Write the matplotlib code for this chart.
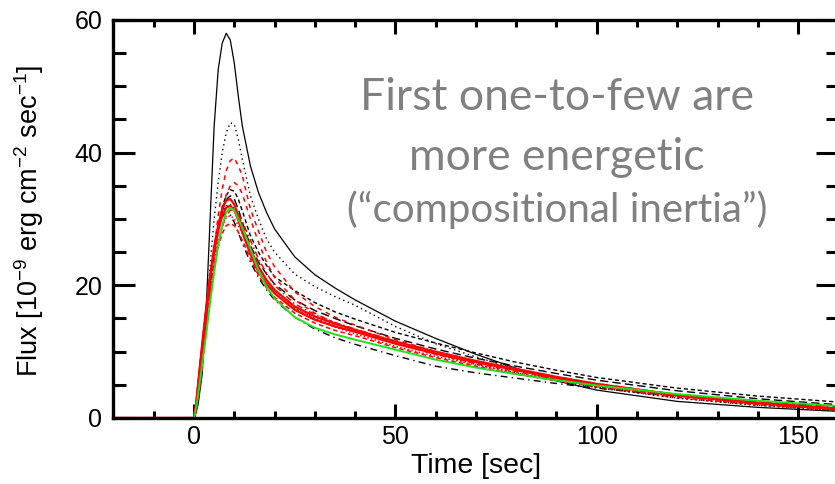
"""Light curves of successive bursts: flux vs time"""

import matplotlib.pyplot as plt
from matplotlib.ticker import MultipleLocator

# Time samples [sec] shared by every light curve
time = [-20, 0, 0.5, 1, 2, 3, 4, 5, 6, 7, 8, 9, 10, 11, 12, 14, 16, 18, 20,
        25, 30, 35, 40, 50, 60, 70, 80, 90, 100, 120, 140, 160]

# Flux values [1e-9 erg cm^-2 sec^-1]
black_solid = [0, 0, 0.8, 2, 6.5, 16, 30, 44, 52.5, 56.5, 58, 57, 53.5, 48.5, 44, 38, 34, 31, 28.5,
               24.3, 21.6, 19.6, 17.8, 14.6, 12, 9.6, 7.5, 5.6, 4.2, 2.5, 1.6, 1.0]
black_dotted = [0, 0, 1, 2.5, 7.5, 15, 23, 30, 35.5, 40, 43, 44.5, 44.3, 42, 39, 33.5, 30, 27, 25,
                21.7, 19.8, 18.3, 17, 13.8, 11.2, 9.2, 7.4, 5.9, 4.6, 3.0, 1.9, 1.2]
black_dashed = [0, 0, 1.5, 4, 10, 15.5, 21, 25.5, 29, 31.8, 33.6, 34.4, 34.2, 33, 31.2, 27.5, 25, 23, 21.3,
                19.2, 17.4, 16, 14.9, 12.9, 11.3, 9.8, 8.4, 7.2, 6.1, 4.5, 3.3, 2.4]
black_longdash = [0, 0, 1.5, 4, 10, 15.5, 20.5, 25, 28.5, 31.2, 32.9, 33.5, 33, 31.5, 29.5, 26, 23.5, 21.7, 20.2,
                  17.8, 16.2, 15, 13.9, 12, 10.4, 9, 7.8, 6.7, 5.7, 4.1, 2.9, 2.0]
black_dashdot = [0, 0, 2, 5, 11, 16.5, 21.5, 25.5, 28.5, 30.3, 31, 30.6, 29.5, 28, 26.3, 23.5, 21.2, 19.3, 17.8,
                 15.2, 13.4, 12.1, 11.1, 9.4, 7.8, 6.8, 6, 5.2, 4.5, 3.3, 2.4, 1.7]
black_dotted2 = [0, 0, 2, 5, 11, 16.5, 21.5, 25.5, 28.5, 30.8, 32, 32.2, 31.5, 30, 28.2, 24.8, 22.2, 20.3, 18.8,
                 16.4, 15, 13.9, 13, 11.3, 9.6, 8.1, 6.8, 5.6, 4.6, 3.0, 1.9, 1.1]

red_dashed1 = [0, 0, 1, 2.5, 7, 13, 19.5, 25.5, 30.5, 34.5, 37.3, 38.8, 39.2, 38, 36.5, 31.5, 28.2, 25, 22.8,
               19, 16.8, 15.2, 14, 11.8, 10, 8.5, 7.2, 6, 5, 3.4, 2.3, 1.5]
red_dashed2 = [0, 0, 1, 3, 8, 13.5, 19, 24, 28, 31.3, 33.6, 35, 35.5, 35, 33.8, 30, 26.5, 23.5, 21.2,
               17.8, 15.8, 14.3, 13.2, 11.2, 9.6, 8.2, 7, 5.9, 4.9, 3.4, 2.3, 1.5]
red_dashed3 = [0, 0, 1.5, 4, 9.5, 14.5, 19, 22.8, 25.8, 27.8, 29, 29.3, 29, 28, 26.8, 24, 21.5, 19.6, 18.2,
               15.8, 14.3, 13.2, 12.4, 10.6, 9.1, 7.8, 6.6, 5.6, 4.7, 3.1, 2.0, 1.2]
red_dashdot = [0, 0, 1, 3, 8, 13, 18, 22.5, 26.2, 28.8, 30.5, 31.3, 31.4, 30.8, 29.6, 26.8, 24, 21.8, 20,
               17.2, 15.6, 14.4, 13.4, 11.6, 10, 8.6, 7.3, 6.2, 5.2, 3.5, 2.3, 1.4]
red_dotted = [0, 0, 1.5, 4, 9.5, 14.5, 19.5, 23.5, 26.8, 29, 30.2, 30.5, 30, 29, 27.8, 25.2, 22.8, 20.8, 19.3,
              16.6, 15, 13.7, 12.7, 10.8, 9.3, 8, 6.8, 5.8, 4.8, 3.3, 2.1, 1.3]
red_solid1 = [0, 0, 2, 5, 11, 16.5, 21.5, 25.8, 29, 31.5, 32.8, 33, 32.2, 30.5, 28.8, 25.5, 22.8, 20.8, 19.3,
              16.8, 15.3, 14.2, 13.3, 11.5, 10, 8.6, 7.4, 6.2, 5.1, 3.4, 2.2, 1.3]
red_solid2 = [0, 0, 2, 4.8, 10.5, 16, 21, 25, 28.2, 30.5, 31.7, 32, 31.3, 29.8, 28, 24.7, 22, 20.2, 18.8,
              16.3, 14.8, 13.8, 13, 11.2, 9.7, 8.4, 7.2, 6.1, 5.1, 3.5, 2.3, 1.4]

green = [0, 0, 1.5, 3.5, 8, 12.5, 17.5, 22, 26, 29, 31, 31.7, 31.3, 30, 28.7, 25.5, 22.2, 19.8, 18,
         15.2, 13.6, 12.6, 11.8, 10.3, 8.8, 7.6, 6.6, 5.7, 4.9, 3.6, 2.6, 1.8]

x_ticks = [0, 50, 100, 150]
y_ticks = [0, 20, 40, 60]
note_lines = ['First one-to-few are', 'more energetic', '(\u201ccompositional inertia\u201d)']

plt.rcParams['font.family'] = ['Liberation Sans', 'DejaVu Sans']
# Superscripts in the same sans face as the labels
plt.rcParams['mathtext.fontset'] = 'custom'
plt.rcParams['mathtext.rm'] = 'Liberation Sans'
plt.rcParams['mathtext.it'] = 'Liberation Sans'
plt.rcParams['mathtext.default'] = 'regular'

fig = plt.figure(figsize=(8.35, 4.84), dpi=100)
ax = fig.add_axes([0.1359, 0.1364, 1.004 - 0.1359, 0.9587 - 0.1364])

# Black curves (thin, various dash patterns)
ax.plot(time, black_solid, color='black', lw=0.9, ls='-')
ax.plot(time, black_dotted, color='black', lw=1.0, ls=(0, (1, 2.5)))
ax.plot(time, black_dashed, color='black', lw=1.0, ls=(0, (3, 2)))
ax.plot(time, black_longdash, color='black', lw=1.0, ls=(0, (6, 3)))
ax.plot(time, black_dashdot, color='black', lw=1.0, ls=(0, (5, 3, 1, 3)))
ax.plot(time, black_dotted2, color='black', lw=1.0, ls=(0, (1, 2)))

# Red curves
ax.plot(time, red_dashed1, color='red', lw=1.1, ls=(0, (3, 3)))
ax.plot(time, red_dashed2, color='red', lw=1.1, ls=(0, (3, 3)))
ax.plot(time, red_dashed3, color='red', lw=1.1, ls=(0, (3, 2)))
ax.plot(time, red_dashdot, color='red', lw=1.1, ls=(0, (4, 2, 1, 2)))
ax.plot(time, red_dotted, color='red', lw=1.1, ls=(0, (1, 1.5)))
ax.plot(time, red_solid1, color='red', lw=1.6, ls='-')
ax.plot(time, red_solid2, color='red', lw=1.6, ls='-')

# Green reference curve on top
ax.plot(time, green, color='#22dd22', lw=1.4, ls='-')

ax.set_xlim(-20, 160)
ax.set_ylim(0, 60)
ax.set_xticks(x_ticks)
ax.set_yticks(y_ticks)
ax.xaxis.set_minor_locator(MultipleLocator(10))
ax.yaxis.set_minor_locator(MultipleLocator(5))

# Thick frame with inward ticks on all four sides
for side in ax.spines.values():
    side.set_linewidth(2.4)
ax.tick_params(axis='both', which='both', direction='in', top=True, right=True,
               width=2.2, labelsize=18, colors='black')
ax.tick_params(axis='x', which='major', length=10, pad=5)
ax.tick_params(axis='x', which='minor', length=5)
ax.tick_params(axis='y', which='major', length=16, pad=8)
ax.tick_params(axis='y', which='minor', length=9)

ax.set_xlabel('Time [sec]', fontsize=20.5, labelpad=3)
ax.set_ylabel('Flux [10$^{-9}$ erg cm$^{-2}$ sec$^{-1}$]', fontsize=19.5,
              va='center', ha='center')
ax.yaxis.set_label_coords(-0.117, 0.495)

# Gray annotation text
note_y = [0.773, 0.649, 0.541]
note_size = [32, 32, 29]
for line, y, size in zip(note_lines, note_y, note_size):
    fig.text(0.667, y, line, ha='center', va='baseline', fontsize=size,
             color='#808080', family=['Lato', 'DejaVu Sans'])

plt.savefig('out.png', dpi=100)
